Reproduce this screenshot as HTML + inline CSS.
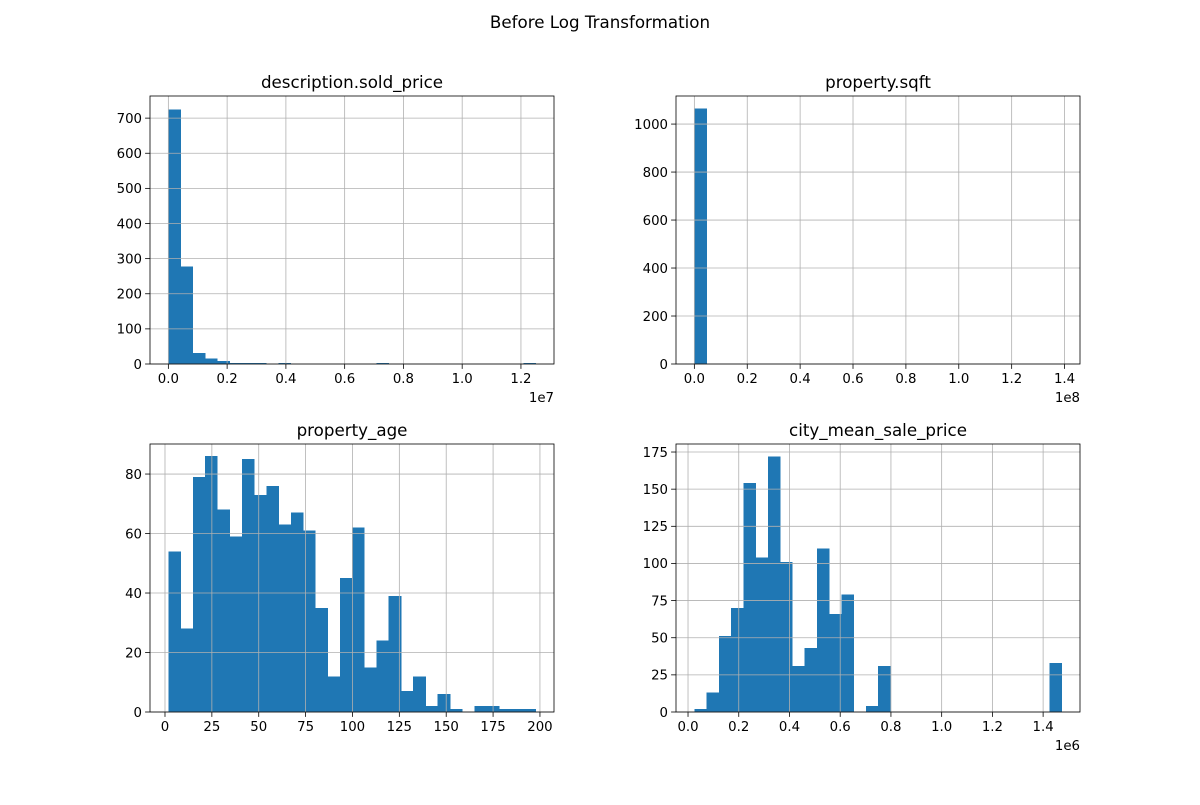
<!DOCTYPE html>
<html><head><meta charset="utf-8">
<style>
body{margin:0;background:#fff;}
svg text{font-family:"DejaVu Sans","Liberation Sans",sans-serif;fill:#000;}
</style></head>
<body>
<svg id="fig" width="1200" height="800" xmlns="http://www.w3.org/2000/svg">
<text x="600" y="28" text-anchor="middle" font-size="16.7">Before Log Transformation</text>
</svg>
<script>
const priceCounts=[725,278,32,15,8,3,3,3,0,3,0,0,0,0,0,0,0,3,0,0,0,0,0,0,0,0,0,0,0,3];
const sqftCounts=[1065,0,0,0,0,0,0,0,0,0,0,0,0,0,0,0,0,0,0,0,0,0,0,0,0,0,0,0,0,0];
const ageCounts=[54,28,79,86,68,59,85,73,76,63,67,61,35,12,45,62,15,24,39,7,12,2,6,1,0,2,2,1,1,1];
const cityCounts=[2,13,51,70,154,104,172,101,31,43,110,66,79,0,4,31,0,0,0,0,0,0,0,0,0,0,0,0,0,33];
const priceXTicks=[0,0.2,0.4,0.6,0.8,1.0,1.2];
const sqftXTicks=[0,0.2,0.4,0.6,0.8,1.0,1.2,1.4];
const ageXTicks=[0,25,50,75,100,125,150,175,200];
const cityXTicks=[0,0.2,0.4,0.6,0.8,1.0,1.2,1.4];
const priceYTicks=[0,100,200,300,400,500,600,700];
const sqftYTicks=[0,200,400,600,800,1000];
const ageYTicks=[0,20,40,60,80];
const cityYTicks=[0,25,50,75,100,125,150,175];

const NS="http://www.w3.org/2000/svg";
const fig=document.getElementById('fig');
function mk(tag,attrs,parent){const e=document.createElementNS(NS,tag);for(const k in attrs)e.setAttribute(k,attrs[k]);(parent||fig).appendChild(e);return e;}

function hist(cfg){
  const {left,top,w,h,dmin,dmax,counts,xticks,yticks,ymax,title,offset,fmt,name}=cfg;
  const g=mk('g',{});
  
  
  const span=dmax-dmin, xlo=dmin-0.05*span, xhi=dmax+0.05*span;
  const xs=v=>left+(v-xlo)/(xhi-xlo)*w;
  const ys=v=>top+h-v/ymax*h;
  const n=counts.length, bw=span/n;
  counts.forEach((c,i)=>{
    if(c<=0)return;
    const x0=xs(dmin+i*bw),x1=xs(dmin+(i+1)*bw);
    const r=mk('rect',{x:x0,y:ys(c),width:x1-x0+0.4,height:ys(0)-ys(c),fill:'#1f77b4','shape-rendering':'crispEdges'},g);
    
    
  });
  xticks.forEach(t=>{
    const x=xs(t);
    const l=mk('line',{x1:x,x2:x,y1:top,y2:top+h,stroke:'#b0b0b0','stroke-width':0.8},g);
    
    
    mk('line',{x1:x,x2:x,y1:top+h,y2:top+h+4.9,stroke:'#000','stroke-width':0.8},g);
    const tx=mk('text',{x:x,y:top+h+19,'text-anchor':'middle','font-size':'13.3'},g);
    tx.textContent=fmt(t);
    
    
  });
  yticks.forEach(t=>{
    const y=ys(t);
    const l=mk('line',{x1:left,x2:left+w,y1:y,y2:y,stroke:'#b0b0b0','stroke-width':0.8},g);
    
    
    mk('line',{x1:left-4.9,x2:left,y1:y,y2:y,stroke:'#000','stroke-width':0.8},g);
    const tx=mk('text',{x:left-8,y:y+4.8,'text-anchor':'end','font-size':'13.3'},g);
    tx.textContent=t;
    
    
  });
  mk('rect',{x:left,y:top,width:w,height:h,fill:'none',stroke:'#000','stroke-width':0.8},g);
  const tt=mk('text',{x:left+w/2,y:top-8,'text-anchor':'middle','font-size':'16.7'},g);
  tt.textContent=title;
  
  
  if(offset){
    const o=mk('text',{x:left+w,y:top+h+38,'text-anchor':'end','font-size':'13.3'},g);
    o.textContent=offset;
    
    
  }
}
const f1=t=>t.toFixed(1);
hist({left:150,top:96,w:404,h:268,dmin:0,dmax:12.5e6/1e7,counts:priceCounts,xticks:priceXTicks,yticks:priceYTicks,ymax:763,title:'description.sold_price',offset:'1e7',fmt:f1,name:'sold-price'});
hist({left:676,top:96,w:404,h:268,dmin:0,dmax:1.389,counts:sqftCounts,xticks:sqftXTicks,yticks:sqftYTicks,ymax:1117,title:'property.sqft',offset:'1e8',fmt:f1,name:'sqft'});
hist({left:150,top:444,w:404,h:268,dmin:1.8,dmax:197.7,counts:ageCounts,xticks:ageXTicks,yticks:ageYTicks,ymax:90.1,title:'property_age',offset:null,fmt:t=>String(t),name:'property-age'});
hist({left:676,top:444,w:404,h:268,dmin:0.025,dmax:1.473,counts:cityCounts,xticks:cityXTicks,yticks:cityYTicks,ymax:180.4,title:'city_mean_sale_price',offset:'1e6',fmt:f1,name:'city-mean-price'});
</script>
</body></html>
